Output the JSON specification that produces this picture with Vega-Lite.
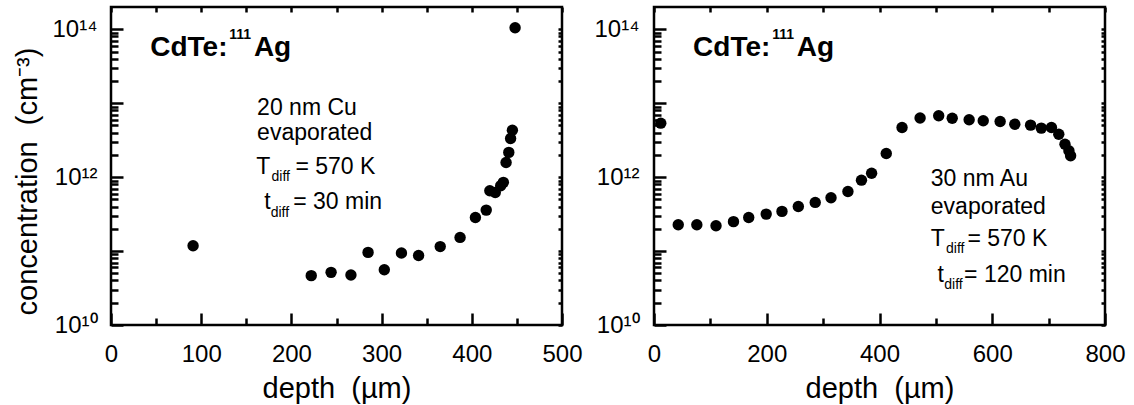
{
  "$schema": "https://vega.github.io/schema/vega-lite/v6.json",
  "background": "white",
  "padding": {"left": 11, "top": 4, "right": 0, "bottom": 0},
  "datasets": {
    "cu": [
      {"depth": 91, "conc": 1.18e11},
      {"depth": 222, "conc": 4.65e10},
      {"depth": 244, "conc": 5.15e10},
      {"depth": 266, "conc": 4.74e10},
      {"depth": 285, "conc": 9.6e10},
      {"depth": 303, "conc": 5.6e10},
      {"depth": 322, "conc": 9.4e10},
      {"depth": 341, "conc": 8.7e10},
      {"depth": 365, "conc": 1.15e11},
      {"depth": 387, "conc": 1.53e11},
      {"depth": 404, "conc": 2.85e11},
      {"depth": 416, "conc": 3.58e11},
      {"depth": 420, "conc": 6.55e11},
      {"depth": 426, "conc": 6.2e11},
      {"depth": 432, "conc": 7.65e11},
      {"depth": 435, "conc": 8.5e11},
      {"depth": 438, "conc": 1.58e12},
      {"depth": 441, "conc": 2.16e12},
      {"depth": 443, "conc": 3.33e12},
      {"depth": 445, "conc": 4.3e12},
      {"depth": 448, "conc": 1.05e14}
    ],
    "au": [
      {"depth": 12, "conc": 5.37e12},
      {"depth": 43, "conc": 2.27e11},
      {"depth": 76, "conc": 2.27e11},
      {"depth": 110, "conc": 2.2e11},
      {"depth": 141, "conc": 2.5e11},
      {"depth": 168, "conc": 2.85e11},
      {"depth": 199, "conc": 3.16e11},
      {"depth": 227, "conc": 3.44e11},
      {"depth": 256, "conc": 4.0e11},
      {"depth": 286, "conc": 4.55e11},
      {"depth": 314, "conc": 5.25e11},
      {"depth": 344, "conc": 6.4e11},
      {"depth": 368, "conc": 9.1e11},
      {"depth": 386, "conc": 1.13e12},
      {"depth": 412, "conc": 2.09e12},
      {"depth": 440, "conc": 4.7e12},
      {"depth": 472, "conc": 6.3e12},
      {"depth": 505, "conc": 6.76e12},
      {"depth": 529, "conc": 6.27e12},
      {"depth": 559, "conc": 5.96e12},
      {"depth": 584, "conc": 5.78e12},
      {"depth": 614, "conc": 5.66e12},
      {"depth": 640, "conc": 5.2e12},
      {"depth": 668, "conc": 5.05e12},
      {"depth": 687, "conc": 4.6e12},
      {"depth": 705, "conc": 4.7e12},
      {"depth": 718, "conc": 3.81e12},
      {"depth": 729, "conc": 2.79e12},
      {"depth": 736, "conc": 2.27e12},
      {"depth": 739, "conc": 1.95e12}
    ],
    "cu_text": [
      {"x": 43.5, "y": 4.38e13, "t": "CdTe:", "k": "head"},
      {"x": 131, "y": 7.48e13, "t": "111", "k": "sup"},
      {"x": 158.4, "y": 4.38e13, "t": "Ag", "k": "head"},
      {"x": 162, "y": 6.82e12, "t": "20 nm Cu", "k": "main"},
      {"x": 162, "y": 3.13e12, "t": "evaporated", "k": "main"},
      {"x": 161, "y": 1.1e12, "t": "T", "k": "main"},
      {"x": 178, "y": 8.9e11, "t": "diff", "k": "sub"},
      {"x": 204.5, "y": 1.1e12, "t": "= 570 K", "k": "main"},
      {"x": 170, "y": 3.7e11, "t": "t", "k": "main"},
      {"x": 177, "y": 2.85e11, "t": "diff", "k": "sub"},
      {"x": 202, "y": 3.7e11, "t": "= 30 min", "k": "main"}
    ],
    "au_text": [
      {"x": 69.3, "y": 4.38e13, "t": "CdTe:", "k": "head"},
      {"x": 209.6, "y": 7.48e13, "t": "111", "k": "sup"},
      {"x": 253.3, "y": 4.38e13, "t": "Ag", "k": "head"},
      {"x": 491, "y": 7.66e11, "t": "30 nm Au", "k": "main"},
      {"x": 491, "y": 3.17e11, "t": "evaporated", "k": "main"},
      {"x": 491, "y": 1.18e11, "t": "T", "k": "main"},
      {"x": 518, "y": 9.4e10, "t": "diff", "k": "sub"},
      {"x": 556, "y": 1.18e11, "t": "= 570 K", "k": "main"},
      {"x": 503, "y": 3.78e10, "t": "t", "k": "main"},
      {"x": 515, "y": 3.06e10, "t": "diff", "k": "sub"},
      {"x": 550, "y": 3.78e10, "t": "= 120 min", "k": "main"}
    ]
  },
  "hconcat": [
    {
      "width": 451,
      "height": 318,
      "layer": [
        {
          "data": {"name": "cu"},
          "mark": {"type": "circle", "size": 130, "color": "black", "opacity": 1},
          "encoding": {
            "x": {"field": "depth", "type": "quantitative", "scale": {"domain": [0, 500], "nice": false, "zero": false},
              "axis": {"orient": "bottom", "values": [0, 50, 100, 150, 200, 250, 300, 350, 400, 450, 500],
                "tickSize": {"condition": {"test": "datum.value % 100 == 0", "value": -12}, "value": -7},
                "labelPadding": 29, "labelFlush": false,
                "labelExpr": "datum.value % 100 == 0 ? datum.label : ''",
                "title": "depth \u00a0(µm)", "titlePadding": 8}},
            "y": {"field": "conc", "type": "quantitative", "scale": {"type": "log", "domain": [1e10, 2e14], "nice": false},
              "axis": {"orient": "left", "values": [1e10, 2e10, 3e10, 4e10, 5e10, 6e10, 7e10, 8e10, 9e10, 1e11, 2e11, 3e11, 4e11, 5e11, 6e11, 7e11, 8e11, 9e11, 1e12, 2e12, 3e12, 4e12, 5e12, 6e12, 7e12, 8e12, 9e12, 1e13, 2e13, 3e13, 4e13, 5e13, 6e13, 7e13, 8e13, 9e13, 1e14],
                "tickSize": {"condition": {"test": "abs(log(datum.value)/LN10 - round(log(datum.value)/LN10)) < 0.001", "value": -12}, "value": -7},
                "labelPadding": 26, "labelFlush": false,
                "labelExpr": "datum.value == 1e14 ? '10¹⁴' : datum.value == 1e12 ? '10¹²' : datum.value == 1e10 ? '10¹⁰' : ''",
                "title": "concentration \u00a0(cm⁻³)", "titlePadding": 10, "titleY": 174}}
          }
        },
        {
          "data": {"name": "cu"},
          "mark": {"type": "circle", "opacity": 0},
          "encoding": {
            "x": {"field": "depth", "type": "quantitative", "scale": {"domain": [0, 500], "nice": false, "zero": false},
              "axis": {"orient": "top", "values": [0, 50, 100, 150, 200, 250, 300, 350, 400, 450, 500], "tickSize": -5, "labels": false, "title": null}},
            "y": {"field": "conc", "type": "quantitative", "scale": {"type": "log", "domain": [1e10, 2e14], "nice": false},
              "axis": {"orient": "right", "values": [1e10, 2e10, 3e10, 4e10, 5e10, 6e10, 7e10, 8e10, 9e10, 1e11, 2e11, 3e11, 4e11, 5e11, 6e11, 7e11, 8e11, 9e11, 1e12, 2e12, 3e12, 4e12, 5e12, 6e12, 7e12, 8e12, 9e12, 1e13, 2e13, 3e13, 4e13, 5e13, 6e13, 7e13, 8e13, 9e13, 1e14], "tickSize": -4, "labels": false, "title": null}}
          }
        },
        {
          "data": {"name": "cu_text"},
          "transform": [{"filter": "datum.k == 'head'"}],
          "mark": {"type": "text", "align": "left", "baseline": "alphabetic", "font": "Liberation Sans", "fontSize": 28, "fontWeight": "bold", "color": "black"},
          "encoding": {
            "x": {"field": "x", "type": "quantitative", "axis": null},
            "y": {"field": "y", "type": "quantitative", "axis": null},
            "text": {"field": "t"}
          }
        },
        {
          "data": {"name": "cu_text"},
          "transform": [{"filter": "datum.k == 'sup'"}],
          "mark": {"type": "text", "align": "left", "baseline": "alphabetic", "font": "Liberation Sans", "fontSize": 14, "fontWeight": "bold", "color": "black"},
          "encoding": {
            "x": {"field": "x", "type": "quantitative", "axis": null},
            "y": {"field": "y", "type": "quantitative", "axis": null},
            "text": {"field": "t"}
          }
        },
        {
          "data": {"name": "cu_text"},
          "transform": [{"filter": "datum.k == 'main'"}],
          "mark": {"type": "text", "align": "left", "baseline": "alphabetic", "font": "Liberation Sans", "fontSize": 23, "color": "black"},
          "encoding": {
            "x": {"field": "x", "type": "quantitative", "axis": null},
            "y": {"field": "y", "type": "quantitative", "axis": null},
            "text": {"field": "t"}
          }
        },
        {
          "data": {"name": "cu_text"},
          "transform": [{"filter": "datum.k == 'sub'"}],
          "mark": {"type": "text", "align": "left", "baseline": "alphabetic", "font": "Liberation Sans", "fontSize": 14, "color": "black"},
          "encoding": {
            "x": {"field": "x", "type": "quantitative", "axis": null},
            "y": {"field": "y", "type": "quantitative", "axis": null},
            "text": {"field": "t"}
          }
        }
      ],
      "resolve": {"axis": {"x": "independent", "y": "independent"}}
    },
    {
      "width": 451,
      "height": 318,
      "layer": [
        {
          "data": {"name": "au"},
          "mark": {"type": "circle", "size": 130, "color": "black", "opacity": 1},
          "encoding": {
            "x": {"field": "depth", "type": "quantitative", "scale": {"domain": [0, 800], "nice": false, "zero": false},
              "axis": {"orient": "bottom", "values": [0, 100, 200, 300, 400, 500, 600, 700, 800],
                "tickSize": {"condition": {"test": "datum.value % 200 == 0", "value": -12}, "value": -7},
                "labelPadding": 29, "labelFlush": false,
                "labelExpr": "datum.value % 200 == 0 ? datum.label : ''",
                "title": "depth \u00a0(µm)", "titlePadding": 8}},
            "y": {"field": "conc", "type": "quantitative", "scale": {"type": "log", "domain": [1e10, 2e14], "nice": false},
              "axis": {"orient": "left", "values": [1e10, 2e10, 3e10, 4e10, 5e10, 6e10, 7e10, 8e10, 9e10, 1e11, 2e11, 3e11, 4e11, 5e11, 6e11, 7e11, 8e11, 9e11, 1e12, 2e12, 3e12, 4e12, 5e12, 6e12, 7e12, 8e12, 9e12, 1e13, 2e13, 3e13, 4e13, 5e13, 6e13, 7e13, 8e13, 9e13, 1e14],
                "tickSize": {"condition": {"test": "abs(log(datum.value)/LN10 - round(log(datum.value)/LN10)) < 0.001", "value": -12}, "value": -7},
                "labelPadding": 27, "labelFlush": false,
                "labelExpr": "datum.value == 1e14 ? '10¹⁴' : datum.value == 1e12 ? '10¹²' : datum.value == 1e10 ? '10¹⁰' : ''",
                "title": null}}
          }
        },
        {
          "data": {"name": "au"},
          "mark": {"type": "circle", "opacity": 0},
          "encoding": {
            "x": {"field": "depth", "type": "quantitative", "scale": {"domain": [0, 800], "nice": false, "zero": false},
              "axis": {"orient": "top", "values": [0, 100, 200, 300, 400, 500, 600, 700, 800], "tickSize": -5, "labels": false, "title": null}},
            "y": {"field": "conc", "type": "quantitative", "scale": {"type": "log", "domain": [1e10, 2e14], "nice": false},
              "axis": {"orient": "right", "values": [1e10, 2e10, 3e10, 4e10, 5e10, 6e10, 7e10, 8e10, 9e10, 1e11, 2e11, 3e11, 4e11, 5e11, 6e11, 7e11, 8e11, 9e11, 1e12, 2e12, 3e12, 4e12, 5e12, 6e12, 7e12, 8e12, 9e12, 1e13, 2e13, 3e13, 4e13, 5e13, 6e13, 7e13, 8e13, 9e13, 1e14], "tickSize": -4, "labels": false, "title": null}}
          }
        },
        {
          "data": {"name": "au_text"},
          "transform": [{"filter": "datum.k == 'head'"}],
          "mark": {"type": "text", "align": "left", "baseline": "alphabetic", "font": "Liberation Sans", "fontSize": 28, "fontWeight": "bold", "color": "black"},
          "encoding": {
            "x": {"field": "x", "type": "quantitative", "axis": null},
            "y": {"field": "y", "type": "quantitative", "axis": null},
            "text": {"field": "t"}
          }
        },
        {
          "data": {"name": "au_text"},
          "transform": [{"filter": "datum.k == 'sup'"}],
          "mark": {"type": "text", "align": "left", "baseline": "alphabetic", "font": "Liberation Sans", "fontSize": 14, "fontWeight": "bold", "color": "black"},
          "encoding": {
            "x": {"field": "x", "type": "quantitative", "axis": null},
            "y": {"field": "y", "type": "quantitative", "axis": null},
            "text": {"field": "t"}
          }
        },
        {
          "data": {"name": "au_text"},
          "transform": [{"filter": "datum.k == 'main'"}],
          "mark": {"type": "text", "align": "left", "baseline": "alphabetic", "font": "Liberation Sans", "fontSize": 23, "color": "black"},
          "encoding": {
            "x": {"field": "x", "type": "quantitative", "axis": null},
            "y": {"field": "y", "type": "quantitative", "axis": null},
            "text": {"field": "t"}
          }
        },
        {
          "data": {"name": "au_text"},
          "transform": [{"filter": "datum.k == 'sub'"}],
          "mark": {"type": "text", "align": "left", "baseline": "alphabetic", "font": "Liberation Sans", "fontSize": 14, "color": "black"},
          "encoding": {
            "x": {"field": "x", "type": "quantitative", "axis": null},
            "y": {"field": "y", "type": "quantitative", "axis": null},
            "text": {"field": "t"}
          }
        }
      ],
      "resolve": {"axis": {"x": "independent", "y": "independent"}}
    }
  ],
  "spacing": 92,
  "bounds": "flush",
  "config": {
    "view": {"stroke": "black", "strokeWidth": 2.5},
    "axis": {
      "domain": false,
      "grid": false,
      "labelFont": "Liberation Sans",
      "titleFont": "Liberation Sans",
      "labelColor": "black",
      "titleColor": "black",
      "tickColor": "black",
      "tickWidth": 2.5,
      "labelFontSize": 24,
      "titleFontSize": 29,
      "titleFontWeight": "normal"
    }
  }
}
